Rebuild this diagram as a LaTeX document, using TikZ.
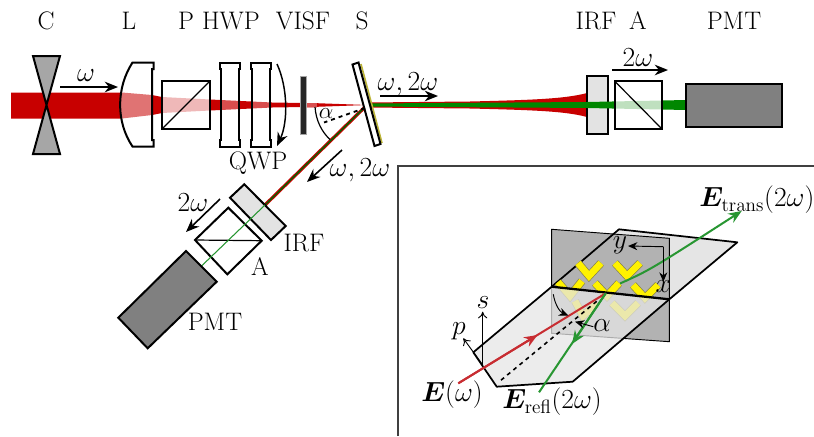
\documentclass[tikz,border=0pt]{standalone}
\usepackage{bm}
\usepackage{xcolor}
\usetikzlibrary{arrows.meta, calc}
\definecolor{beamred}{RGB}{200,0,0}
\definecolor{beamgreen}{RGB}{0,135,0}
\definecolor{arrowred}{RGB}{200,45,50}
\definecolor{arrowgreen}{RGB}{40,150,50}
\tikzset{
	optic/.style={draw=black, line width=1.5pt, line join=miter},
	fade/.style={fill=white, fill opacity=#1, draw=none},
	dirarrow/.style={line width=1.2pt, -{Stealth[length=10pt, width=8pt]}},
	edgeline/.style={draw=black, line width=1.3pt, line join=round},
	chevron/.style={draw=black!55!yellow, line width=.5pt, double=yellow, double distance=5pt, line join=miter},
	thinarrow/.style={line width=.7pt, -{Stealth[length=7pt, width=6pt]}},
	openarrow/.style={line width=.7pt, -{To[length=5pt, width=7pt]}},
	insetlab/.style={font=\fontsize{20.5}{24}\selectfont}
}
\begin{document}
\begin{tikzpicture}[x=0.75pt, y=-0.75pt]
	\fontsize{19}{22}\selectfont
	\useasboundingbox (0,0) rectangle (814,436);
	\coordinate (hit) at (367,105);
	\coordinate (exitR) at (265,205);
	\coordinate (endR) at (201.5,266);
	\coordinate (irfF) at (587,105);
	\coordinate (pmtF) at (686,105);
	% incoming beam
	\fill[beamred] (11,92.5) -- (122,92.5) -- (152,95) -- (162,97) -- (210,99.5) -- (272,102.5) -- (317,103.2) -- (hit) -- (317,106.8) -- (272,107.5) -- (210,110.5) -- (162,113) -- (152,115) -- (122,118.5) -- (11,118.5) -- cycle;
	\fill[beamred!55!white, opacity=.7] (306,102.5) rectangle (317,107.5);
	% transmitted beam
	\fill[beamred] (hit) -- (367,102.5) -- (470,101.5) .. controls (530,100) and (565,99) .. (587,93) -- (587,117) .. controls (565,111) and (530,110) .. (470,108.5) -- (367,107.5) -- cycle;
	\filldraw[optic, fill=gray!22] (587,76) rectangle (607.5,134);
	\fill[beamgreen] (367,103.5) -- (irfF |- 0,102) -- (662,100.5) -- (686,100) -- (686,110) -- (662,109.5) -- (irfF |- 0,108) -- (367,106.5) -- cycle;
	% reflected beam
	\draw[beamred, line width=2.5pt] (hit) -- (exitR);
	\draw[beamgreen!75!black, line width=1pt] (hit) -- (exitR);
	% cuvette
	\filldraw[optic, fill=gray!70] (33,56) -- (60,56) -- (33,154) -- (60,154) -- cycle;
	% lens
	\fill[fade=.45] (132.5,62.5) .. controls (116,88) and (116,122) .. (132.5,146.5) -- (152.5,146.5) -- (152.5,62.5) -- cycle;
	\draw[optic] (153.5,69) -- (153.5,62.5) -- (132.5,62.5) .. controls (116,88) and (116,122) .. (132.5,146.5) -- (153.5,146.5) -- (153.5,140) -- (152,140) -- (152,69) -- cycle;
	% polarizer
	\fill[fade=.72] (162,81) rectangle (210,129);
	\draw[optic] (162,81) rectangle (210,129);
	\draw[line width=.9pt] (162,129) -- (210,81);
	% waveplates
	\fill[fade=.3] (219.5,62.5) rectangle (240,147);
	\fill[fade=.3] (250.5,62.5) rectangle (271,147);
	\draw[optic] (221,69) -- (219.5,69) -- (219.5,62.5) -- (240,62.5) -- (240,69) -- (238.5,69) -- (238.5,140) -- (240,140) -- (240,147) -- (219.5,147) -- (219.5,140) -- (221,140) -- cycle;
	\draw[optic] (252,69) -- (250.5,69) -- (250.5,62.5) -- (271,62.5) -- (271,69) -- (269.5,69) -- (269.5,140) -- (271,140) -- (271,147) -- (250.5,147) -- (250.5,140) -- (252,140) -- cycle;
	\draw[line width=1.1pt, -{Stealth[length=10pt, width=8pt]}] (277,64) .. controls (288,88) and (288,122) .. (277,146);
	% filter
	\filldraw[draw=gray!70, line width=.5pt, fill=black!85] (300,76) rectangle (306,134);
	% sample
	\draw[draw=yellow!70!black, line width=1.2pt] (361,64) -- (382,143);
	\filldraw[optic, fill=white] (352.5,64.5) -- (358.5,62.5) -- (380.5,144) -- (374.5,146) -- cycle;
	\draw[line width=.9pt] (315,107) .. controls (316,121) and (322,132) .. (330,139.5);
	\draw[line width=1.4pt, dashed] (hit) ++(-2,3) -- (324,122.5);
	\node (alphaS) at (326,114) {$\alpha$};
	% analyser arm, straight
	\fill[fade=.75] (614.5,81) rectangle (662,129);
	\draw[optic] (614.5,81) rectangle (662,129);
	\draw[line width=.9pt] (614.5,81) -- (662,129);
	\filldraw[optic, fill=gray] (686,84) rectangle (782,127);
	% analyser arm, tilted
	\filldraw[optic, fill=gray!22] (244.3,184.3) -- (285.7,226) -- (271,240) -- (230,197.7) -- cycle;
	\draw[optic] (228.3,207.7) -- (261.7,240.7) -- (227.3,274.3) -- (195,240) -- cycle;
	\draw[line width=.9pt] (195,240) -- (261.7,240.7);
	\draw[arrowgreen, line width=.8pt] (exitR) -- (endR);
	\filldraw[optic, fill=gray] (186,251) -- (216.7,281.7) -- (147.7,348.3) -- (118.3,317.7) -- cycle;
	% direction arrows
	\draw[dirarrow] (60,87) -- (118,87);
	\draw[dirarrow] (380,96) -- (438,96);
	\draw[dirarrow] (612,70) -- (668,70);
	\draw[dirarrow] (342,150) -- (307,182);
	\draw[dirarrow] (220,199) -- (186,232);
	% labels
	\node (labC) at (46,21) {C};
	\node (labL) at (129,21) {L};
	\node (labP) at (186,21) {P};
	\node (labHWP) at (231,21) {HWP};
	\node (labVISF) at (303,21) {VISF};
	\node (labS) at (362,21) {S};
	\node (labIRF) at (596,21) {IRF};
	\node (labA) at (638,21) {A};
	\node (labPMT) at (734,21) {PMT};
	\node (labQWP) at (258,163) {QWP};
	\node (labIRFb) at (304,243) {IRF};
	\node (labAb) at (260,267) {A};
	\node (labPMTb) at (215,322) {PMT};
	\node[insetlab] (omA) at (86,76) {$\omega$};
	\node[insetlab] (omB) at (408,84) {$\omega,2\omega$};
	\node[insetlab] (omC) at (638,58) {$2\omega$};
	\node[insetlab] (omD) at (360,170) {$\omega,2\omega$};
	\node[insetlab] (omE) at (193,203) {$2\omega$};
	% inset frame
	\draw[draw=black!75, line width=1.5pt] (398,436) -- (398,165.5) -- (814,165.5);
	\coordinate (focus) at (605.7,293.3);
	% planes
	\fill[gray!20] (619,229.3) -- (737.3,242.3) -- (669.3,299.3) -- (551.7,286.7) -- cycle;
	\filldraw[draw=black, line width=.7pt, fill=gray!60] (551.7,229.3) -- (669.3,238.3) -- (669.3,341.7) -- (551.7,333.3) -- cycle;
	\draw[edgeline] (551.7,286.7) -- (619,229.3) -- (737.3,242.3) -- (669.3,299.3);
	% split ring array
	\draw[chevron] (578,263) -- (589,276) -- (601,263);
	\draw[chevron] (615,263) -- (627,276) -- (640,263);
	\draw[chevron] (558,282) -- (570,296) -- (582,281);
	\draw[chevron] (595,283) -- (607,296) -- (619,283);
	\draw[chevron] (633,285) -- (645,298) -- (658,285);
	\draw[chevron] (575,301) -- (583,316) -- (597,303);
	\draw[chevron] (612,303) -- (625,316) -- (638,303);
	% lower plane
	\fill[gray!20, fill opacity=.75] (551.7,286.7) -- (669.3,299.3) -- (572.7,381.7) -- (496.7,386.7) -- (473.3,352.3) -- cycle;
	\draw[edgeline] (669.3,299.3) -- (572.7,381.7) -- (496.7,386.7) -- (473.3,352.3) -- (551.7,286.7);
	\draw[line width=1.7pt] (551.7,286.7) -- (669.3,299.3);
	% fields
	\draw[line width=1.2pt, dashed] (focus) ++(-9,8) -- (500,381);
	\draw[arrowred, line width=1.5pt] (458.3,383.3) -- (focus);
	\draw[arrowred, line width=1.5pt, -{Stealth[length=10pt, width=8pt]}] (458.3,383.3) -- (537.5,335);
	\draw[arrowgreen, line width=1.5pt] (focus) -- (539,392.3);
	\draw[arrowgreen, line width=1.5pt, -{Stealth[length=10pt, width=8pt]}] (focus) -- (572,344);
	\draw[arrowgreen, line width=1.5pt, -{Stealth[length=10pt, width=8pt]}] (620,283.5) .. controls (650,270) .. (741.7,211);
	% axes
	\coordinate (axes) at (663.3,246.7);
	\draw[thinarrow] (axes) -- (628,246);
	\draw[thinarrow] (axes) -- (663.3,281.7);
	\coordinate (sp) at (482.7,365);
	\draw[openarrow] (sp) -- (482.7,311.7);
	\draw[openarrow] (sp) -- (463.3,338.3);
	\draw[thinarrow] (553.3,294.3) .. controls (555,305) and (560,312) .. (568.3,315.5);
	\draw[thinarrow] (593.3,326.7) -- (575,321.7);
	\node[insetlab] (laby) at (620,245) {$y$};
	\node[insetlab] (labx) at (663.3,287) {$x$};
	\node[insetlab] (labs) at (483,303) {$s$};
	\node[insetlab] (labp) at (459,331) {$p$};
	\node[insetlab] (labal) at (602,326) {$\alpha$};
	\node[insetlab] (labEin) at (452,395) {$\bm{E}(\omega)$};
	\node[insetlab] (labErefl) at (552,402) {$\bm{E}_{\mathrm{refl}}(2\omega)$};
	\node[anchor=west, inner sep=0pt, font=\fontsize{19.5}{24}\selectfont] (labEtrans) at (699,200) {$\bm{E}_{\mathrm{trans}}(2\omega)$};
\end{tikzpicture}
\end{document}
